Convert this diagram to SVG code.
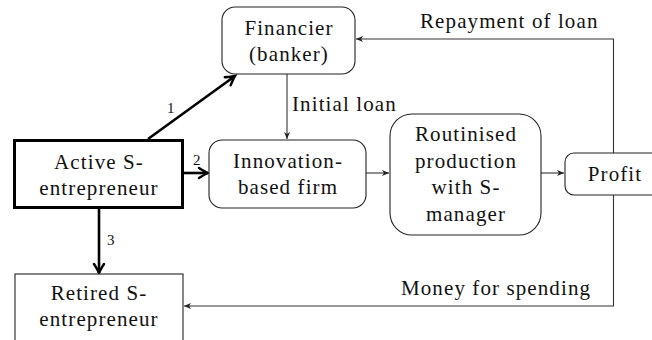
<svg xmlns="http://www.w3.org/2000/svg" width="652" height="340" viewBox="0 0 652 340">
<style>
.t{font-size:21px;fill:#111;letter-spacing:1.1px}
.c{text-anchor:middle}
.num{font-size:15px;letter-spacing:0}
.box{fill:#fff;stroke:#222;stroke-width:1.1}
.thick{fill:#fff;stroke:#000;stroke-width:3}
.thin{fill:none;stroke:#333;stroke-width:1.1}
.bold{fill:none;stroke:#000;stroke-width:2.6}
</style>
<defs>
<marker id="ah" markerUnits="userSpaceOnUse" markerWidth="12" markerHeight="10" refX="0" refY="0" viewBox="-8 -5 10 10" orient="auto">
<path d="M0,0 L-7,-3 L-5,0 L-7,3 Z" fill="#222"/>
</marker>
<marker id="ahb" markerUnits="userSpaceOnUse" markerWidth="16" markerHeight="14" refX="0" refY="0" viewBox="-12 -7 14 14" orient="auto">
<path d="M-9,-5 Q-3,-1.2 0,0 Q-3,1.2 -9,5" fill="none" stroke="#000" stroke-width="2.4" stroke-linecap="round"/>
</marker>
</defs>
<g font-family="Liberation Serif, serif">
<g id="connectors">
<line class="thin" x1="287" y1="74" x2="287" y2="139" marker-end="url(#ah)"/>
<line class="thin" x1="366" y1="173" x2="389" y2="173" marker-end="url(#ah)"/>
<line class="thin" x1="541" y1="173" x2="564" y2="173" marker-end="url(#ah)"/>
<polyline class="thin" points="613.5,153 613.5,39 356,39" marker-end="url(#ah)"/>
<polyline class="thin" points="613.5,195 613.5,306 184,306" marker-end="url(#ah)"/>
<line class="bold" x1="148" y1="139" x2="235" y2="76" marker-end="url(#ahb)"/>
<line class="bold" x1="184" y1="173" x2="208" y2="173" marker-end="url(#ahb)"/>
<line class="bold" x1="99" y1="209" x2="99" y2="273" marker-end="url(#ahb)"/>
<text class="t" x="292" y="111">Initial loan</text>
<text class="t" x="420" y="28">Repayment of loan</text>
<text class="t" x="401" y="295">Money for spending</text>
<text class="t num" x="167" y="113">1</text>
<text class="t num" x="193" y="165">2</text>
<text class="t num" x="107" y="245">3</text>
</g>
<g id="financier">
<rect class="box" x="222" y="7" width="133" height="67" rx="13"/>
<text class="t c" x="289" y="35">Financier</text>
<text class="t c" x="289" y="61">(banker)</text>
</g>
<g id="active">
<rect class="thick" x="14.5" y="140.5" width="168" height="67"/>
<text class="t c" x="99" y="169">Active S-</text>
<text class="t c" x="99" y="195">entrepreneur</text>
</g>
<g id="innovation">
<rect class="box" x="209" y="140" width="157" height="68" rx="13"/>
<text class="t c" x="288" y="168">Innovation-</text>
<text class="t c" x="288" y="194">based firm</text>
</g>
<g id="routinised">
<rect class="box" x="390" y="114" width="151" height="121" rx="22"/>
<text class="t c" x="466" y="141">Routinised</text>
<text class="t c" x="466" y="167.5">production</text>
<text class="t c" x="466" y="194">with S-</text>
<text class="t c" x="466" y="220.5">manager</text>
</g>
<g id="profit">
<rect class="box" x="565" y="153" width="100" height="42" rx="9"/>
<text class="t c" x="615" y="181">Profit</text>
</g>
<g id="retired">
<rect class="box" x="15" y="274" width="168" height="80"/>
<text class="t c" x="99" y="300">Retired S-</text>
<text class="t c" x="99" y="326">entrepreneur</text>
</g>
</g>
</svg>
